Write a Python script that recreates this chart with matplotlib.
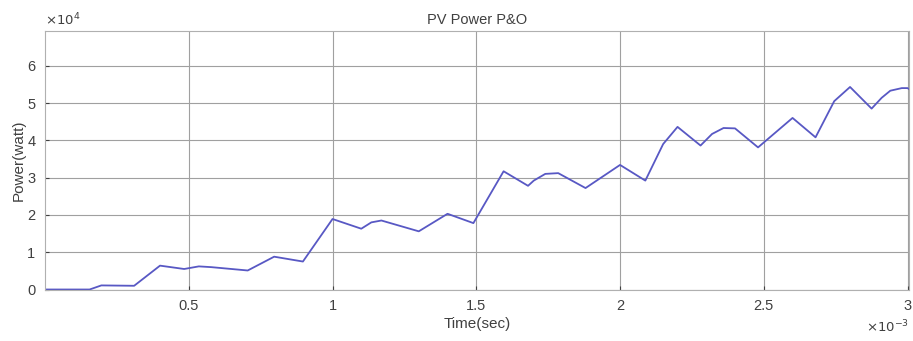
import matplotlib.pyplot as plt
from matplotlib.ticker import FuncFormatter

# PV power under P&O MPPT
time_ms = [0.0, 0.155, 0.196, 0.31, 0.40, 0.484, 0.535, 0.578, 0.705, 0.797, 0.897,
           1.0, 1.10, 1.135, 1.17, 1.30, 1.40, 1.49, 1.595, 1.68, 1.70, 1.74, 1.785,
           1.88, 2.0, 2.088, 2.15, 2.20, 2.28, 2.32, 2.36, 2.40, 2.48, 2.60, 2.68,
           2.745, 2.80, 2.875, 2.91, 2.94, 2.98, 3.0, 3.02]
power_w = [0, 0, 1100, 1000, 6400, 5500, 6200, 6000, 5100, 8800, 7500,
           18900, 16300, 18000, 18500, 15600, 20300, 17800, 31700, 27800, 29200, 31000, 31200,
           27200, 33400, 29200, 39000, 43600, 38600, 41700, 43300, 43200, 38100, 46000, 40800,
           50500, 54300, 48500, 51400, 53300, 54000, 54000, 53000]

x_ticks = [0.5, 1.0, 1.5, 2.0, 2.5, 3.0]
y_ticks = [0, 1, 2, 3, 4, 5, 6]

TEXT = "#404040"
GRID = "#a0a0a0"
LINE = "#5858c4"

plt.rcParams.update({
    "font.family": ["Liberation Sans", "DejaVu Sans"],
    "font.size": 10,
    "text.color": TEXT,
    "axes.labelcolor": TEXT,
    "xtick.color": TEXT,
    "ytick.color": TEXT,
    "xtick.direction": "in",
    "ytick.direction": "in",
})

fig = plt.figure(figsize=(9.13, 3.41), dpi=100)
ax = fig.add_axes([0.0493, 0.151, 0.9463, 0.758])

ax.plot(time_ms, [p / 1e4 for p in power_w], color=LINE, linewidth=1.3)

ax.set_xlim(0, 3.005)
ax.set_ylim(0, 6.93)
ax.set_xticks(x_ticks)
ax.set_yticks(y_ticks)
ax.xaxis.set_major_formatter(FuncFormatter(lambda v, _: f"{v:g}"))
ax.yaxis.set_major_formatter(FuncFormatter(lambda v, _: f"{v:g}"))
ax.tick_params(length=3, width=0.8, labelsize=10.5, pad=7)

ax.grid(True, color=GRID, linewidth=0.8)
for s in ax.spines.values():
    s.set_color("#b0b0b0")
    s.set_linewidth(0.8)

ax.set_title("PV Power P&O", fontsize=10.5, color=TEXT, pad=5)
ax.set_xlabel("Time(sec)", fontsize=11, labelpad=3)
ax.set_ylabel("Power(watt)", fontsize=11, labelpad=1)

ax.text(0.0, 1.01, r"$\times10^{4}$", transform=ax.transAxes, ha="left", va="bottom",
        fontsize=9.5, color=TEXT)
ax.text(1.0, -0.145, r"$\times10^{-3}$", transform=ax.transAxes, ha="right", va="center",
        fontsize=9.5, color=TEXT)

fig.savefig("out.png", dpi=100)
